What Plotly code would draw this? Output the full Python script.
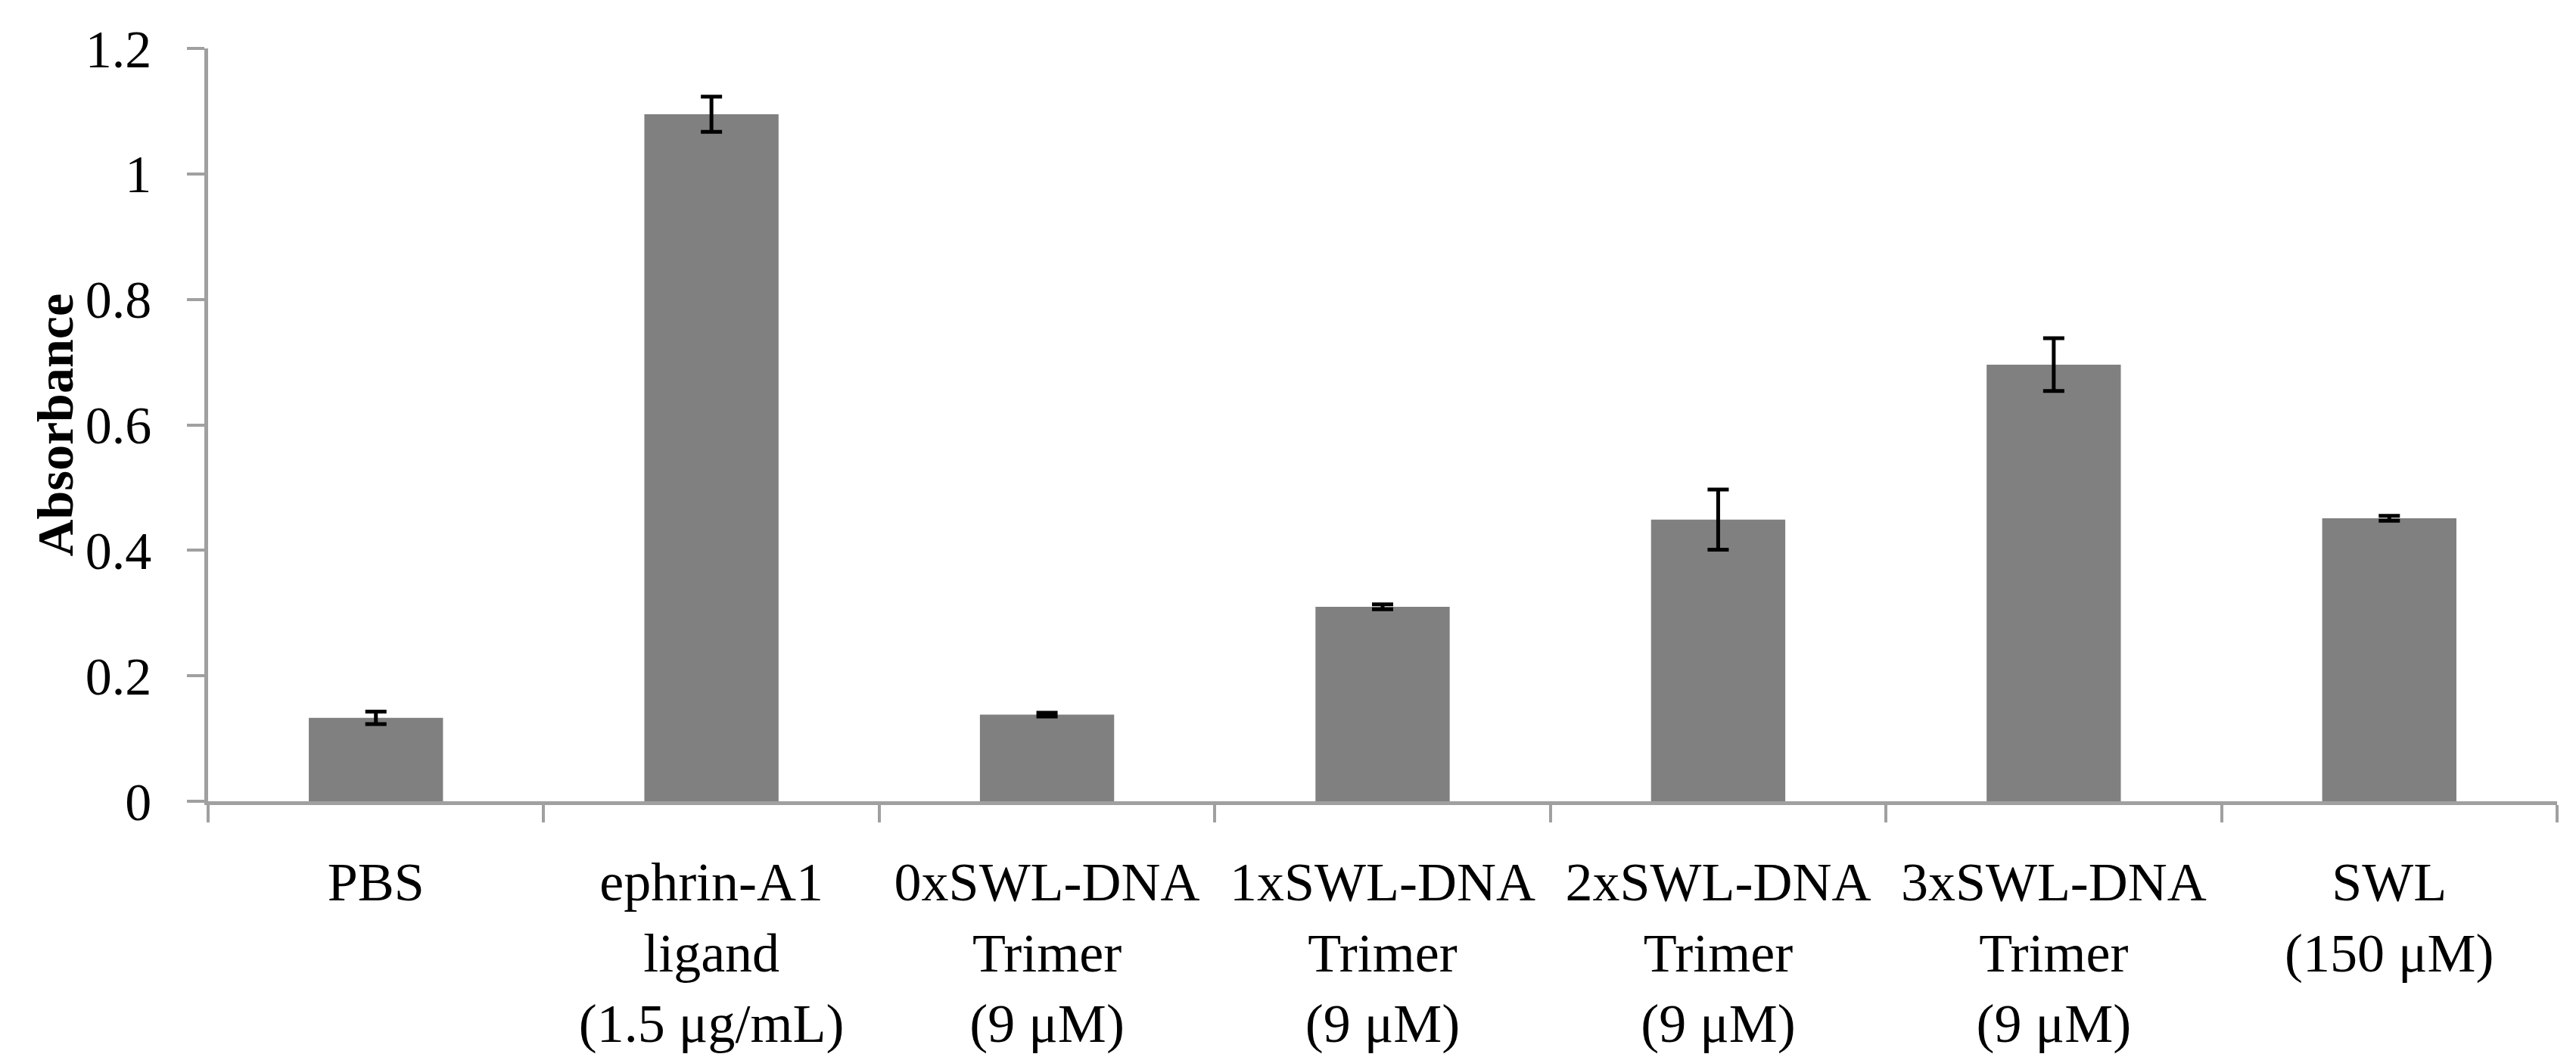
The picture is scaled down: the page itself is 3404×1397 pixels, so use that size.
import plotly.graph_objects as go

categories = [
    "PBS",
    "ephrin-A1<br>ligand<br>(1.5 μg/mL)",
    "0xSWL-DNA<br>Trimer<br>(9 μM)",
    "1xSWL-DNA<br>Trimer<br>(9 μM)",
    "2xSWL-DNA<br>Trimer<br>(9 μM)",
    "3xSWL-DNA<br>Trimer<br>(9 μM)",
    "SWL<br>(150 μM)",
]
absorbance = [0.133, 1.095, 0.138, 0.310, 0.449, 0.696, 0.451]
error = [0.010, 0.028, 0.003, 0.004, 0.048, 0.042, 0.004]
y_ticks = [0, 0.2, 0.4, 0.6, 0.8, 1.0, 1.2]
y_ticktext = ["0", "0.2", "0.4", "0.6", "0.8", "1", "1.2"]

FONT = "Liberation Serif"
AXIS_COLOR = "#A0A0A0"

fig = go.Figure()
fig.add_trace(go.Bar(
    x=categories,
    y=absorbance,
    marker=dict(color="#808080", line=dict(width=0)),
    error_y=dict(type="data", array=error, visible=True,
                 color="black", thickness=5, width=14),
    showlegend=False,
))

fig.update_layout(
    width=3404, height=1397,
    margin=dict(l=267, r=33, t=56, b=324),
    paper_bgcolor="white", plot_bgcolor="white",
    bargap=0.6,
    font=dict(family=FONT, size=70, color="black"),
)

fig.update_xaxes(
    type="category",
    range=[-0.5, 6.5],
    showline=True, linecolor=AXIS_COLOR, linewidth=4.5,
    ticks="outside", tickson="boundaries", ticklen=23, tickwidth=4, tickcolor=AXIS_COLOR,
    tickangle=0,
    tickfont=dict(family=FONT, size=72, color="black"),
    ticklabelstandoff=40,
    showgrid=False, zeroline=False,
)
fig.update_yaxes(
    range=[0, 1.2],
    tickvals=y_ticks, ticktext=y_ticktext,
    showline=True, linecolor=AXIS_COLOR, linewidth=4.5,
    ticks="outside", ticklen=23, tickwidth=4, tickcolor=AXIS_COLOR,
    tickfont=dict(family=FONT, size=70, color="black"),
    ticklabelstandoff=33,
    showgrid=False, zeroline=False,
)

fig.add_annotation(
    text="<b>Absorbance</b>",
    xref="paper", yref="paper",
    x=(64 - 267) / 3104, y=0.5,
    xanchor="center", yanchor="middle",
    textangle=-90, showarrow=False,
    font=dict(family=FONT, size=68, color="black"),
)

fig.write_html("out.html")
